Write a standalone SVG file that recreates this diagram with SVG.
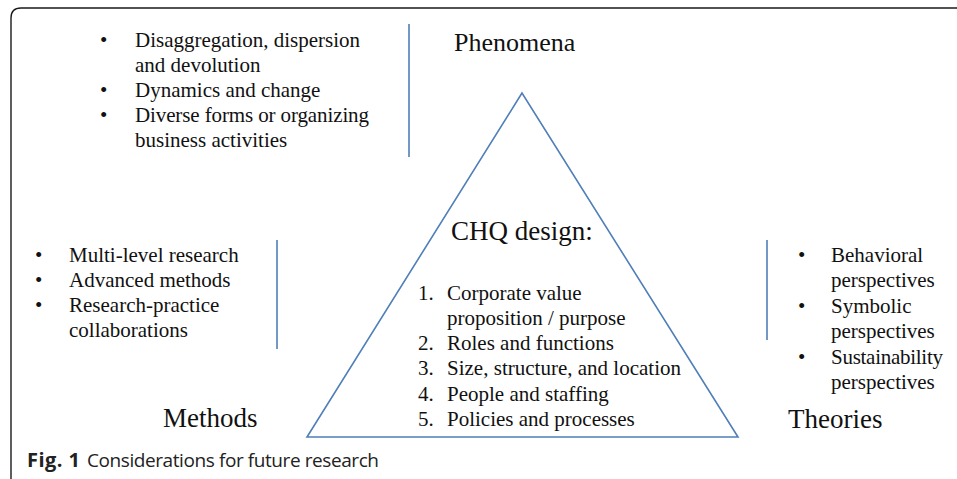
<svg xmlns="http://www.w3.org/2000/svg" width="957" height="479" viewBox="0 0 957 479">
<style>
.s{font-family:"Liberation Serif","Times New Roman",serif;font-size:21px;fill:#111}
.h{font-family:"Liberation Serif","Times New Roman",serif;font-size:27px;fill:#111}
.ln{stroke:#4f7fb8;stroke-width:1.6;fill:none}
.cap{font-family:"Open Sans","Noto Sans",sans-serif;font-size:19px;fill:#222}
</style>
<rect x="0" y="0" width="957" height="479" fill="#fff"/>
<path d="M11,480 L11,18 Q11,8 21,8 L960,8" fill="none" stroke="#1a1a1a" stroke-width="1.4"/>
<g id="connectors">
<line class="ln" x1="409" y1="24" x2="409" y2="157"/>
<line class="ln" x1="277" y1="240" x2="277" y2="349"/>
<line class="ln" x1="767" y1="240" x2="767" y2="340"/>
</g>
<g id="chq">
<polygon class="ln" points="522,93 307,437 738,437"/>
<text class="h" x="451" y="240">CHQ design:</text>
<text class="s" x="418" y="300">1.</text><text class="s" x="447" y="300">Corporate value</text>
<text class="s" x="447" y="325">proposition / purpose</text>
<text class="s" x="418" y="350">2.</text><text class="s" x="447" y="350">Roles and functions</text>
<text class="s" x="418" y="375">3.</text><text class="s" x="447" y="375" textLength="234">Size, structure, and location</text>
<text class="s" x="418" y="401">4.</text><text class="s" x="447" y="401">People and staffing</text>
<text class="s" x="418" y="426">5.</text><text class="s" x="447" y="426">Policies and processes</text>
</g>
<g id="phenomena">
<text class="h" x="454" y="51" style="font-size:26px">Phenomena</text>
<text class="s" x="100" y="47">•</text><text class="s" x="135" y="47" textLength="225">Disaggregation, dispersion</text>
<text class="s" x="135" y="72">and devolution</text>
<text class="s" x="100" y="97">•</text><text class="s" x="135" y="97">Dynamics and change</text>
<text class="s" x="100" y="122">•</text><text class="s" x="135" y="122" textLength="234">Diverse forms or organizing</text>
<text class="s" x="135" y="147">business activities</text>
</g>
<g id="methods">
<text class="h" x="163" y="427">Methods</text>
<text class="s" x="35" y="262">•</text><text class="s" x="69" y="262">Multi-level research</text>
<text class="s" x="35" y="287">•</text><text class="s" x="69" y="287">Advanced methods</text>
<text class="s" x="35" y="312">•</text><text class="s" x="69" y="312">Research-practice</text>
<text class="s" x="69" y="337">collaborations</text>
</g>
<g id="theories">
<text class="h" x="788" y="428">Theories</text>
<text class="s" x="798" y="262">•</text><text class="s" x="831" y="262">Behavioral</text>
<text class="s" x="831" y="287">perspectives</text>
<text class="s" x="798" y="313">•</text><text class="s" x="831" y="313">Symbolic</text>
<text class="s" x="831" y="338">perspectives</text>
<text class="s" x="798" y="364">•</text><text class="s" x="831" y="364" textLength="112">Sustainability</text>
<text class="s" x="831" y="389">perspectives</text>
</g>
<g id="caption">
<text class="cap" x="27" y="467"><tspan font-weight="bold" font-size="20" textLength="53">Fig. 1</tspan><tspan x="87" textLength="292">Considerations for future research</tspan></text>
</g>
</svg>
